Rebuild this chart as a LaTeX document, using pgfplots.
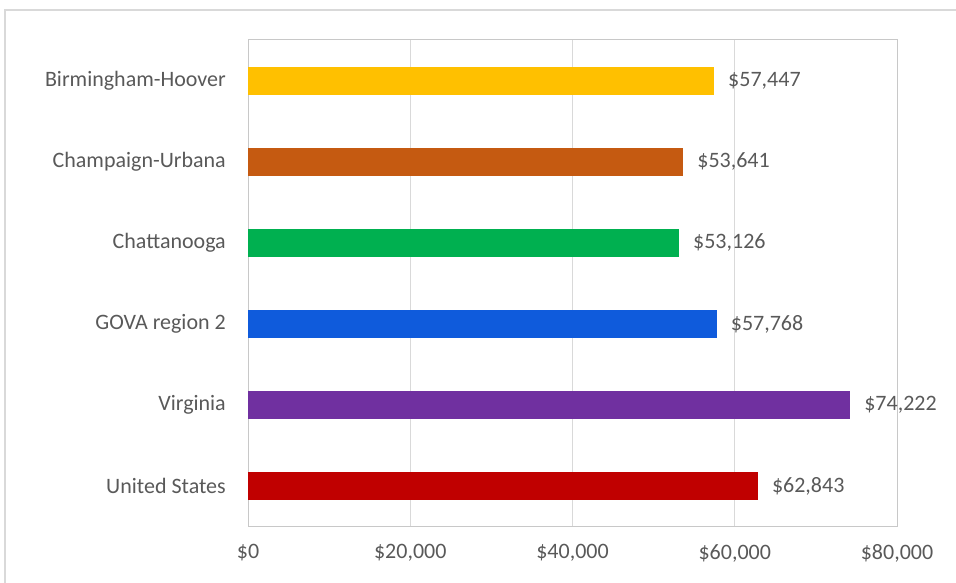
\documentclass[border=0pt]{standalone}
\usepackage{pgfplots}
\pgfplotsset{compat=1.18}
\usepackage{fontspec}
\setmainfont{Carlito}
\definecolor{txt}{HTML}{595959}
\definecolor{gridc}{HTML}{D9D9D9}
\definecolor{axc}{HTML}{C8C8C8}
\definecolor{cyel}{HTML}{FFC000}
\definecolor{cbrn}{HTML}{C55A11}
\definecolor{cgrn}{HTML}{00B050}
\definecolor{cblu}{HTML}{0F5BDC}
\definecolor{cpur}{HTML}{7030A0}
\definecolor{cred}{HTML}{C00000}
\begin{document}
\begin{tikzpicture}
\path[use as bounding box] (0,0) rectangle (956pt,583pt);
\begin{scope}
\clip (0,0) rectangle (956pt,583pt);
\draw[color=gridc, line width=1.5pt] (5pt,-20pt) rectangle (975pt,573pt);
\end{scope}
\begin{axis}[
  at={(248pt,56pt)}, anchor=south west, scale only axis,
  width=649pt, height=487pt,
  xbar, xmin=0, xmax=80000, ymin=-0.5, ymax=5.5,
  ytick={0,1,2,3,4,5},
  yticklabels={United States, Virginia, GOVA region 2, Chattanooga, Champaign-Urbana, Birmingham-Hoover},
  xtick={0,20000,40000,60000,80000},
  xticklabels={{\$0},{\$20,000},{\$40,000},{\$60,000},{\$80,000}},
  major tick length=0pt,
  tick style={draw=none},
  xmajorgrids, grid style={draw=gridc, line width=1pt},
  axis line style={draw=axc, line width=1pt},
  ticklabel style={font=\fontsize{22}{26}\selectfont, text=txt},
  yticklabel style={anchor=east, inner sep=0pt, xshift=-22pt},
  xticklabel style={anchor=north, inner sep=0pt, yshift=-17pt},
  bar width=28pt,
  point meta=explicit symbolic,
  nodes near coords,
  every node near coord/.append style={font=\fontsize{22}{26}\selectfont, text=txt, anchor=west, inner sep=0pt, xshift=14pt},
]
\addplot[fill=cyel, draw=none, bar shift=0pt] coordinates {(57447,5) [\$57,447]};
\addplot[fill=cbrn, draw=none, bar shift=0pt] coordinates {(53641,4) [\$53,641]};
\addplot[fill=cgrn, draw=none, bar shift=0pt] coordinates {(53126,3) [\$53,126]};
\addplot[fill=cblu, draw=none, bar shift=0pt] coordinates {(57768,2) [\$57,768]};
\addplot[fill=cpur, draw=none, bar shift=0pt] coordinates {(74222,1) [\$74,222]};
\addplot[fill=cred, draw=none, bar shift=0pt] coordinates {(62843,0) [\$62,843]};
\end{axis}
\end{tikzpicture}
\end{document}
